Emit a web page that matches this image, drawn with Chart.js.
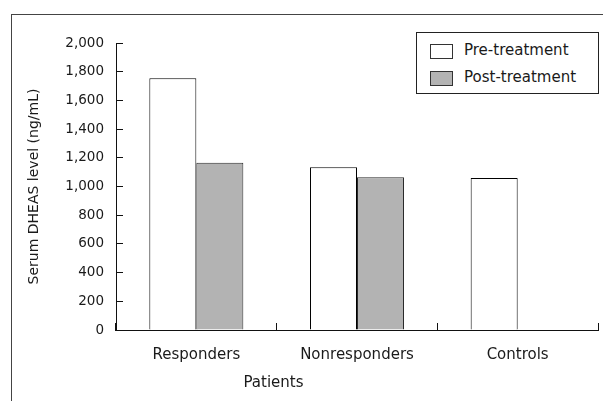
<!DOCTYPE html>
<html>
<head>
<meta charset="utf-8">
<script src="https://cdn.jsdelivr.net/npm/chart.js@4/dist/chart.umd.min.js"></script>
<style>
	html, body { margin: 0; padding: 0; background: #fff; overflow: hidden; }
	#wrap { position: relative; width: 603px; height: 401px; }
	#frame { position: absolute; left: 11px; top: 14px; width: 700px; height: 500px;
		border-left: 1px solid #444; border-top: 1px solid #444; }
	#mycanvas { position: absolute; left: 0; top: 0; }
	#legend { position: absolute; left: 416px; top: 32px; width: 181px; height: 60px;
		border: 1px solid #222; background: #fff; font-family: "DejaVu Sans"; font-size: 15px; color: #1a1a1a; }
	.item { position: absolute; left: 13px; height: 16px; line-height: 16px; white-space: nowrap; }
	.swatch { position: absolute; left: 0; top: 1px; width: 21px; height: 13px; border: 1px solid #333; }
	.item span.txt { position: absolute; left: 34px; top: -1px; }
</style>
</head>
<body>
<div id="wrap">
	<div id="frame"></div>
	<canvas id="mycanvas" width="603" height="401"></canvas>
	<div id="legend"></div>
</div>
<script>
var categories = ['Responders', 'Nonresponders', 'Controls'];
var preTreatment = [1755, 1135, 1060];
var postTreatment = [1165, 1065, null];
var yTicks = [0, 200, 400, 600, 800, 1000, 1200, 1400, 1600, 1800, 2000];

var font = "DejaVu Sans";

var chartdata = {
	labels: categories,
	datasets: [
		{
			label: 'Pre-treatment',
			data: preTreatment,
			backgroundColor: "#ffffff",
			borderColor: "#000000",
			borderWidth: 1
		},
		{
			label: 'Post-treatment',
			data: postTreatment,
			backgroundColor: "#b3b3b3",
			borderColor: "#2a2a2a",
			borderWidth: 1
		}
	]
};

// x axis title sits left of centre in the original
var xTitlePlugin = {
	id: 'xTitle',
	afterDraw: function(chart) {
		var ctx = chart.ctx;
		var x = chart.scales.x.getPixelForValue(0.48);
		ctx.save();
		ctx.font = "15px " + font;
		ctx.fillStyle = "#1a1a1a";
		ctx.textAlign = "center";
		ctx.textBaseline = "middle";
		ctx.fillText('Patients', x, 383);
		ctx.restore();
	}
};

var ctx = document.getElementById('mycanvas');

var barGraph = new Chart(ctx, {
	type: 'bar',
	data: chartdata,
	options: {
		responsive: false,
		animation: false,
		devicePixelRatio: 1,
		layout: { padding: { left: 0, right: 5, top: 43, bottom: 0 } },
		datasets: {
			bar: { categoryPercentage: 0.585, barPercentage: 1.0 }
		},
		plugins: {
			legend: { display: false },
			tooltip: { enabled: false }
		},
		scales: {
			x: {
				grid: { drawOnChartArea: false, tickLength: -7, color: "#111", offset: true },
				border: { color: "#111", width: 1 },
				ticks: { padding: 23, color: "#1a1a1a", font: { family: font, size: 15 } },
				afterFit: function(scale) { scale.height = 71; }
			},
			y: {
				min: 0,
				max: 2000,
				afterBuildTicks: function(scale) {
					scale.ticks = yTicks.map(function(v) { return { value: v }; });
				},
				grid: { drawOnChartArea: false, tickLength: -7, color: "#111" },
				border: { color: "#111", width: 1 },
				ticks: {
					padding: 19,
					color: "#1a1a1a",
					font: { family: font, size: 13.5 },
					callback: function(v) { return v.toLocaleString('en-US'); }
				},
				title: {
					display: true,
					text: 'Serum DHEAS level (ng/mL)',
					color: "#1a1a1a",
					font: { family: font, size: 14 },
					padding: { top: 26, bottom: 0 }
				},
				afterFit: function(scale) { scale.width = 116; }
			}
		}
	},
	plugins: [xTitlePlugin]
});

// legend box built from the datasets
var legend = document.getElementById('legend');
var tops = [10, 37];
chartdata.datasets.forEach(function(ds, i) {
	var item = document.createElement('div');
	item.className = 'item';
	item.style.top = tops[i] + 'px';
	item.innerHTML = '<span class="swatch" style="background:' + ds.backgroundColor + '"></span><span class="txt">' + ds.label + '</span>';
	legend.appendChild(item);
});
</script>
</body>
</html>
